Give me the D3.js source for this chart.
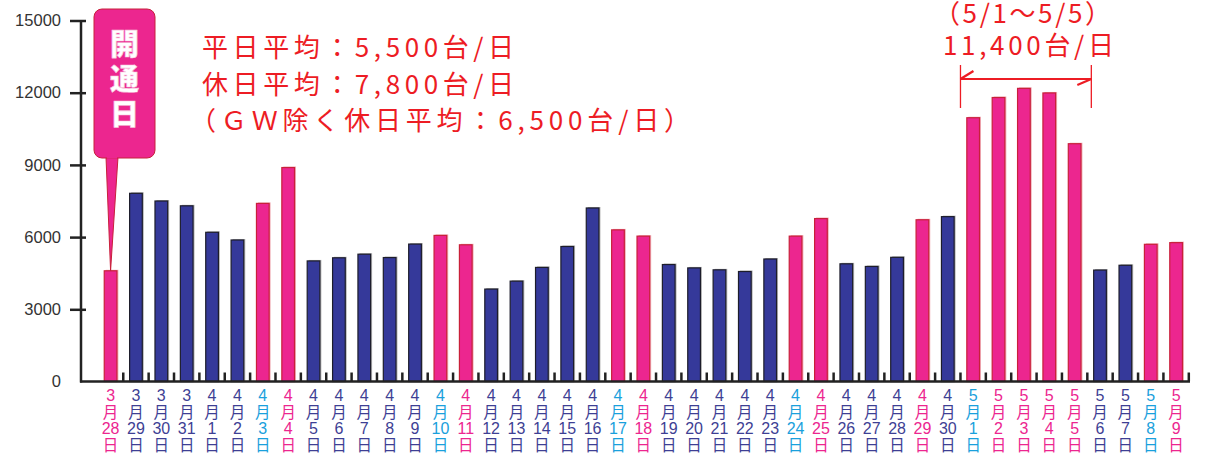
<!DOCTYPE html>
<html><head><meta charset="utf-8">
<script src="https://cdn.jsdelivr.net/npm/d3@7"></script>
<style>
html,body{margin:0;padding:0;background:#fff;}
svg{display:block;}
</style></head>
<body>
<svg id="c" width="1210" height="459"></svg>
<script>
const months = [3,3,3,3, 4,4,4,4,4,4,4,4,4,4, 4,4,4,4,4,4,4,4,4,4, 4,4,4,4,4,4,4,4,4,4, 5,5,5,5,5,5,5,5,5];
const days   = [28,29,30,31, 1,2,3,4,5,6,7,8,9,10, 11,12,13,14,15,16,17,18,19,20, 21,22,23,24,25,26,27,28,29,30, 1,2,3,4,5,6,7,8,9];
// w = weekday, s = Saturday, h = Sunday / holiday
const dayTypes = ["h","w","w","w", "w","w","s","h","w","w","w","w","w","s",
                  "h","w","w","w","w","w","s","h","w","w",
                  "w","w","w","s","h","w","w","w","h","w",
                  "s","h","h","h","h","w","w","s","h"];
const values = [4600,7820,7500,7300, 6200,5880,7400,8890,5010,5140,5290,5150,5710,6070,
                5680,3840,4170,4740,5610,7210,6300,6040,4860,4720,
                4640,4570,5090,6040,6770,4890,4780,5160,6720,6850,
                10960,11800,12180,11990,9880,4630,4830,5700,5770];
const yTicks = [0,3000,6000,9000,12000,15000];
const noteLines = ["平日平均：5,500台/日","休日平均：7,800台/日","（ＧＷ除く休日平均：6,500台/日）"];
const gwLines = ["（5/1～5/5）","11,400台/日"];
const calloutText = ["開","通","日"];

const keys = months.map((m,i)=>m+"/"+days[i]);
const svg = d3.select("#c");

const x = d3.scaleBand().domain(keys).range([97.9,1188.8]).paddingInner(0.5).paddingOuter(0.25);
const y = d3.scaleLinear().domain([0,15000]).range([381.5,20.5]);
const step = x.step();

const NAVY="#35399a", PINK="#ec268f", CYAN="#1aa0dc", LNAVY="#3e3f94";
const barFill = t => t==="w" ? NAVY : PINK;
const barStroke = t => t==="w" ? "#1d1d2b" : "#c8203a";
const labColor = t => t==="w" ? LNAVY : (t==="s" ? CYAN : PINK);

// bar shadows
svg.append("g").selectAll("rect").data(keys).join("rect")
  .attr("x",k=>x(k)+1.5).attr("y",(k,i)=>y(values[i])-1)
  .attr("width",x.bandwidth()).attr("height",(k,i)=>y(0)-y(values[i])+1)
  .attr("fill",(k,i)=>dayTypes[i]==="w"?"#b5b5b5":"#f0b0b8");

// bars
svg.append("g").selectAll("rect").data(keys).join("rect")
  .attr("x",k=>x(k)).attr("y",(k,i)=>y(values[i]))
  .attr("width",x.bandwidth()).attr("height",(k,i)=>y(0)-y(values[i]))
  .attr("fill",(k,i)=>barFill(dayTypes[i]))
  .attr("stroke",(k,i)=>barStroke(dayTypes[i])).attr("stroke-width",1.2);

// y axis
const yAxis = d3.axisLeft(y).tickValues(yTicks).tickSize(0).tickPadding(20).tickFormat(d3.format("d"));
const ga = svg.append("g").attr("transform","translate(81,0)").call(yAxis);
ga.select(".domain").remove();
ga.selectAll(".tick text").attr("font-family","'Liberation Sans',Arial,sans-serif")
  .attr("font-size","16.5px").attr("fill","#333");
ga.selectAll(".tick").filter(d=>d!==0).append("line")
  .attr("x1",-11).attr("x2",5).attr("stroke","#222").attr("stroke-width",2.5);
svg.append("line").attr("x1",81).attr("x2",81).attr("y1",y(15000)).attr("y2",y(0)+1)
  .attr("stroke","#222").attr("stroke-width",2.5);

// x axis line & ticks
svg.append("line").attr("x1",80).attr("x2",1190).attr("y1",y(0)).attr("y2",y(0))
  .attr("stroke","#222").attr("stroke-width",2.5);
svg.append("g").selectAll("line").data(keys).join("line")
  .attr("x1",k=>x(k)-step*0.25+step).attr("x2",k=>x(k)-step*0.25+step)
  .attr("y1",y(0)).attr("y2",y(0)-9).attr("stroke","#222").attr("stroke-width",2.5);

// x labels: one text per column, four stacked lines
const lg = svg.append("g").attr("font-family","'Liberation Sans','Noto Sans CJK JP',sans-serif")
  .attr("font-size","16px").attr("text-anchor","middle");
keys.forEach((k,i)=>{
  const cx = x(k)+x.bandwidth()/2;
  const parts = [String(months[i]),"月",String(days[i]),"日"];
  const t = lg.append("text").attr("x",cx).attr("y",401).attr("fill",labColor(dayTypes[i]));
  parts.forEach((p,j)=>{
    t.append("tspan").attr("x",cx).attr("dy", j===0 ? 0 : 16.7)
      .attr("font-family", j%2===1 ? "'Noto Sans CJK JP',sans-serif" : null)
      .attr("font-size", j%2===1 ? "15.5px" : null)
      .text(p);
  });
});

// callout 開通日
const tipX = x(keys[0])+x.bandwidth()/2, tipY = y(values[0]);
svg.append("path")
  .attr("d",`M106,157 L${tipX},${tipY} L118,157 Z`)
  .attr("fill",PINK).attr("stroke","#c8203a").attr("stroke-width",1);
svg.append("rect").attr("x",94).attr("y",9).attr("width",61).attr("height",149).attr("rx",8)
  .attr("fill",PINK).attr("stroke","#c8203a").attr("stroke-width",1);
svg.append("path").attr("d","M107,157.5 L117,157.5").attr("stroke",PINK).attr("stroke-width",2);
const ct = svg.append("text").attr("x",124.5).attr("y",55).attr("text-anchor","middle")
    .attr("font-family","'Noto Sans CJK JP',sans-serif").attr("font-weight",900)
    .attr("font-size","29px").attr("fill","#fff").attr("stroke","#f6c6dc").attr("stroke-width",0.6);
calloutText.forEach((c,i)=>{
  ct.append("tspan").attr("x",124.5).attr("dy", i===0?0:35).text(c);
});

// averages note
const RED="#ed1c24";
const noteG = svg.append("g").attr("font-family","'Noto Sans CJK JP',sans-serif").attr("font-size","26px").attr("fill",RED);
const noteY=[57,93.5,130], noteX=[202,202,190], noteW=[312,312,500];
noteLines.forEach((t,i)=>{
  noteG.append("text").attr("x",noteX[i]).attr("y",noteY[i])
    .attr("textLength",noteW[i]).attr("lengthAdjust","spacing").text(t);
});

// GW note
const gwX=[934,943], gwY=[23,55], gwW=[177,171];
gwLines.forEach((t,i)=>{
  noteG.append("text").attr("x",gwX[i]).attr("y",gwY[i])
    .attr("textLength",gwW[i]).attr("lengthAdjust","spacing").text(t);
});
const bx1 = x("5/1")-step*0.25, bx2 = x("5/5")+x.bandwidth()+step*0.25+4;
const ag = svg.append("g").attr("stroke",RED).attr("fill","none");
ag.append("line").attr("x1",bx1).attr("x2",bx1).attr("y1",65).attr("y2",108).attr("stroke-width",1.3);
ag.append("line").attr("x1",bx2).attr("x2",bx2).attr("y1",65).attr("y2",108).attr("stroke-width",1.3);
ag.append("line").attr("x1",bx1).attr("x2",bx2).attr("y1",79).attr("y2",79).attr("stroke-width",2.2);
ag.append("path").attr("d",`M${bx1+13},71 L${bx1},79`).attr("stroke-width",2.2);
ag.append("path").attr("d",`M${bx2-14},85 L${bx2},79`).attr("stroke-width",2.2);
</script>
</body></html>
